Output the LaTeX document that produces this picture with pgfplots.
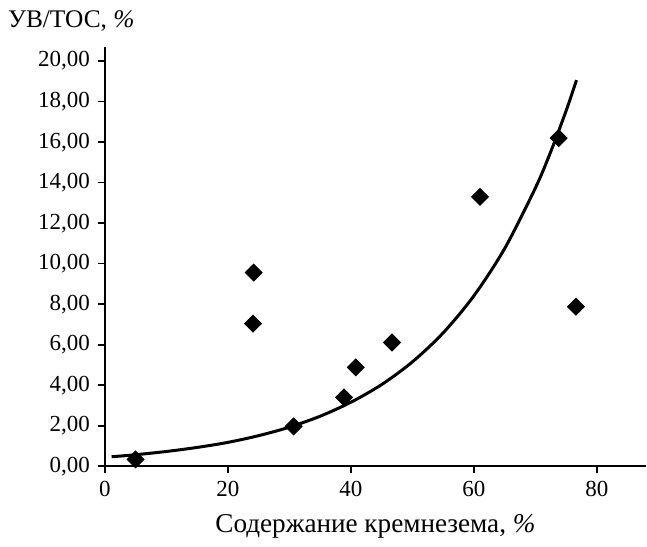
\documentclass[border=0pt]{standalone}
\usepackage{pgfplots}
\pgfplotsset{compat=1.18}
\usepackage{fontspec}
\setmainfont{Liberation Serif}

\begin{document}
\fontsize{11.5}{13}\selectfont
\begin{tikzpicture}
\begin{axis}[
    scale only axis,
    width=271pt, height=210pt,
    xmin=0, xmax=88, ymin=0, ymax=20.7,
    axis x line*=bottom, axis y line*=left,
    axis line style={line width=1pt},
    tick align=outside,
    major tick length=3.5pt,
    tick style={line width=0.8pt, black},
    xtick={0,20,40,60,80},
    ytick={0,2,...,20},
    yticklabel style={/pgf/number format/.cd, fixed, zerofill, precision=2, use comma},
    /pgf/number format/assume math mode=true,
    xlabel={\fontsize{13.6}{15}\selectfont Содержание кремнезема, \textit{\%}},
    xlabel style={yshift=-1pt},
    clip=false,
]
\addplot[only marks, mark=square*, mark size=3pt, mark options={rotate=45, fill=black}, black]
coordinates {
    (5.0,0.34) (24.2,9.56) (24.1,7.04) (30.7,1.97) (38.9,3.40)
    (40.8,4.88) (46.7,6.11) (61.0,13.30) (73.8,16.20) (76.6,7.88)
};
% exponential trend line
\addplot[smooth, line width=1.5pt, black, no marks]
coordinates {
    (1.1,0.47) (5,0.57) (10,0.73) (15,0.93) (20,1.18) (25,1.51)
    (30,1.93) (35,2.47) (40,3.16) (45,4.03) (50,5.15) (55,6.58)
    (60,8.41) (65,10.74) (70,13.73) (72.5,15.52) (75,17.54) (76.7,19.06)
};
\node[anchor=base west, font=\fontsize{12.7}{15}\selectfont] at (rel axis cs:0,1) [xshift=-52.5pt, yshift=9.5pt] {УВ/ТОС, \textit{\%}};
\path (rel axis cs:0,0) ++(-52.5pt,-35.5pt);
\path (rel axis cs:0,1) ++(0,23.5pt);
\end{axis}
\end{tikzpicture}
\end{document}
